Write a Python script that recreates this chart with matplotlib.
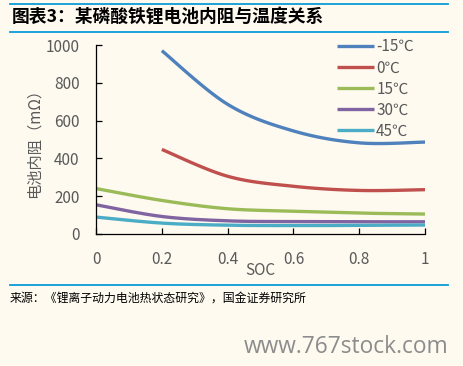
import numpy as np
import matplotlib
matplotlib.use("Agg")
import matplotlib.pyplot as plt

plt.rcParams['font.family'] = ['Noto Sans CJK SC', 'DejaVu Sans']

soc = [0, 0.2, 0.4, 0.6, 0.8, 1.0]
soc_cold = [0.2, 0.4, 0.6, 0.8, 1.0]
r_m15 = [970, 686, 545, 482, 486]
r_0 = [447, 305, 252, 230, 234]
r_15 = [240, 177, 133, 120, 110, 105]
r_30 = [154, 92, 69, 65, 64, 64]
r_45 = [89, 57, 46, 44, 45, 47]
labels = ['-15℃', '0℃', '15℃', '30℃', '45℃']
colors = ['#4F81BD', '#C0504D', '#9BBB59', '#8064A2', '#4BACC6']

bg = '#FEFAF0'
line_blue = '#0A9BD8'
txt_gray = '#595959'


def smooth(x, y, n=30):
    # excel-like smoothed line (catmull-rom bezier)
    x = np.asarray(x, float)
    y = np.asarray(y, float)
    px = np.concatenate([[x[0]], x, [x[-1]]])
    py = np.concatenate([[y[0]], y, [y[-1]]])
    xs, ys = [], []
    t = np.linspace(0, 1, n)
    for i in range(1, len(px) - 2):
        p0 = np.array([px[i], py[i]])
        p3 = np.array([px[i + 1], py[i + 1]])
        c1 = p0 + (np.array([px[i + 1], py[i + 1]]) - np.array([px[i - 1], py[i - 1]])) / 6
        c2 = p3 - (np.array([px[i + 2], py[i + 2]]) - np.array([px[i], py[i]])) / 6
        b = ((1 - t) ** 3)[:, None] * p0 + (3 * (1 - t) ** 2 * t)[:, None] * c1 \
            + (3 * (1 - t) * t ** 2)[:, None] * c2 + (t ** 3)[:, None] * p3
        xs.append(b[:, 0])
        ys.append(b[:, 1])
    return np.concatenate(xs), np.concatenate(ys)


fig = plt.figure(figsize=(4.64, 3.66), dpi=100, facecolor=bg)
ax = fig.add_axes([0.207, 0.361, 0.709, 0.516], facecolor=bg)

series = [(soc_cold, r_m15), (soc_cold, r_0), (soc, r_15), (soc, r_30), (soc, r_45)]
for (xv, yv), lab, c in zip(series, labels, colors):
    sx, sy = smooth(xv, yv)
    ax.plot(sx, sy, color=c, lw=2.4, label=lab, solid_capstyle='butt')

ax.set_xlim(0, 1)
ax.set_ylim(0, 1000)
ax.set_xticks([0, 0.2, 0.4, 0.6, 0.8, 1])
ax.set_xticklabels(['0', '0.2', '0.4', '0.6', '0.8', '1'])
ax.set_yticks([0, 200, 400, 600, 800, 1000])
for s in ['top', 'right']:
    ax.spines[s].set_visible(False)
for s in ['left', 'bottom']:
    ax.spines[s].set_linewidth(0.9)
ax.tick_params(direction='in', length=4, width=0.9, labelsize=11,
               labelcolor=txt_gray)
ax.tick_params(axis='x', pad=12)
ax.tick_params(axis='y', pad=12)
ax.set_xlabel('SOC', fontsize=11, color=txt_gray, labelpad=-4)
ax.set_ylabel('电池内阻（mΩ）', fontsize=11, color=txt_gray, labelpad=2)

ax.legend(loc='upper right', bbox_to_anchor=(0.905, 0.912), bbox_transform=fig.transFigure,
          frameon=False, fontsize=11, handlelength=2.4, handletextpad=0.15,
          labelspacing=0.27, borderaxespad=0, labelcolor=txt_gray)

# header / footer rules
for yy in [4, 32, 285]:
    fig.add_artist(plt.Line2D([10 / 464, 448 / 464], [1 - yy / 366, 1 - yy / 366],
                              color=line_blue, lw=1.3, transform=fig.transFigure))

fig.text(12 / 464, 1 - 18 / 366, '图表3：某磷酸铁锂电池内阻与温度关系', fontsize=12.8,
         fontweight='bold', va='center', ha='left', color='black')
fig.text(10 / 464, 1 - 298 / 366, '来源：《锂离子动力电池热状态研究》，国金证券研究所',
         fontsize=8.6, va='center', ha='left', color='black')
fig.text(448 / 464, 1 - 347 / 366, 'www.767stock.com', fontsize=16.4,
         va='center', ha='right', color='#8C8C8C', family='Open Sans')

fig.savefig('out.png', dpi=100, facecolor=bg)
